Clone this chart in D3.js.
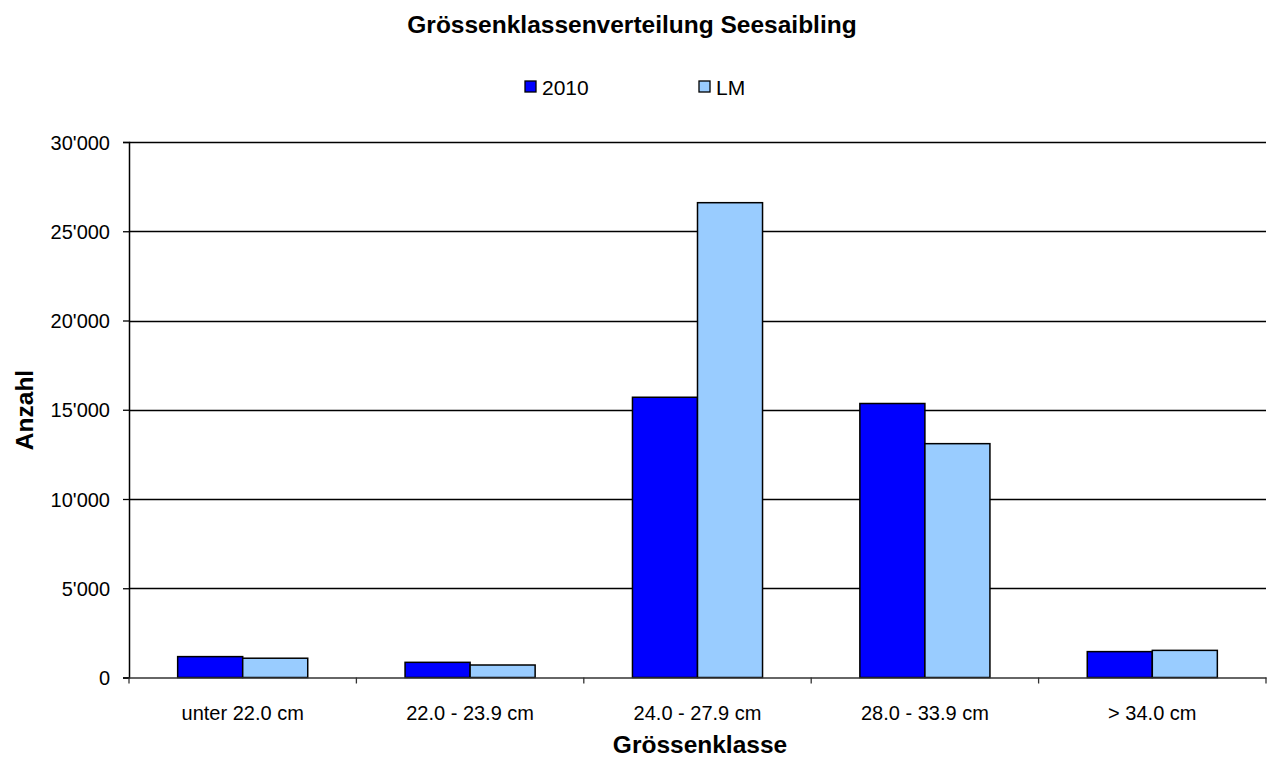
<!DOCTYPE html>
<html>
<head>
<meta charset="utf-8">
<script src="https://cdn.jsdelivr.net/npm/d3@7"></script>
<style>
  html, body { margin: 0; padding: 0; background: #fff; }
  svg { display: block; }
  text { font-family: "Liberation Sans", Arial, sans-serif; fill: #000; }
</style>
</head>
<body>
<svg id="chart" width="1269" height="760"></svg>
<script>
const title = "Grössenklassenverteilung Seesaibling";
const xTitle = "Grössenklasse";
const yTitle = "Anzahl";
const categories = ["unter 22.0 cm", "22.0 - 23.9 cm", "24.0 - 27.9 cm", "28.0 - 33.9 cm", "> 34.0 cm"];
const seriesNames = ["2010", "LM"];
const values2010 = [1170, 850, 15700, 15350, 1450];
const valuesLM = [1080, 700, 26600, 13100, 1520];
const yTicks = [0, 5000, 10000, 15000, 20000, 25000, 30000];
const colors = ["#0000FF", "#99CCFF"];

const svg = d3.select("#chart");
const margin = { left: 129, right: 1266, top: 142, bottom: 677.5 };

const x = d3.scaleBand().domain(categories).range([margin.left, margin.right])
  .paddingInner(0.428).paddingOuter(0.214);
const xs = d3.scaleBand().domain(seriesNames).range([0, x.bandwidth()]);
const y = d3.scaleLinear().domain([0, 30000]).range([margin.bottom, margin.top]);

const fmt = v => d3.format(",")(v).replace(/,/g, "'");

// gridlines
svg.append("g").selectAll("line").data(yTicks.filter(t => t > 0)).join("line")
  .attr("x1", margin.left).attr("x2", margin.right)
  .attr("y1", d => Math.round(y(d)) + 0.5).attr("y2", d => Math.round(y(d)) + 0.5)
  .attr("stroke", "#000").attr("stroke-width", 1.3);

// bars
const data = categories.map((c, i) => ({ c, vals: [values2010[i], valuesLM[i]] }));
const groups = svg.append("g").selectAll("g").data(data).join("g")
  .attr("transform", d => `translate(${x(d.c)},0)`);
groups.selectAll("rect").data(d => d.vals.map((v, j) => ({ v, s: seriesNames[j], j }))).join("rect")
  .attr("x", d => xs(d.s))
  .attr("width", xs.bandwidth())
  .attr("y", d => y(d.v))
  .attr("height", d => y(0) - y(d.v))
  .attr("fill", d => colors[d.j])
  .attr("stroke", "#000").attr("stroke-width", 1.5);

// y axis
const yAxis = d3.axisLeft(y).tickValues(yTicks).tickFormat(fmt).tickSize(6).tickPadding(13);
const yg = svg.append("g").attr("transform", `translate(${margin.left},0)`).call(yAxis);
yg.select(".domain").attr("stroke", "#000").attr("stroke-width", 1.5);
yg.selectAll(".tick line").attr("stroke", "#000").attr("stroke-width", 1.3);
yg.selectAll(".tick text").style("font-size", "20px").attr("font-family", "Liberation Sans, Arial, sans-serif").attr("dy", "0.35em");

// x axis
const xAxis = d3.axisBottom(x).tickSize(0).tickPadding(0);
const xg = svg.append("g").attr("transform", `translate(0,${margin.bottom})`).call(xAxis);
xg.select(".domain").attr("stroke", "#333").attr("stroke-width", 1.5);
xg.selectAll(".tick text").style("font-size", "20px").attr("font-family", "Liberation Sans, Arial, sans-serif")
  .attr("dy", null).attr("y", 42.5);
// category boundary ticks
const bounds = categories.map(c => x(c) - x.step() * x.paddingInner() / 2 - 0).concat([margin.right]);
const bnds = [margin.left].concat(categories.slice(1).map(c => x(c) - (x.step() - x.bandwidth()) / 2), margin.right);
svg.append("g").selectAll("line").data(bnds).join("line")
  .attr("x1", d => d).attr("x2", d => d)
  .attr("y1", margin.bottom).attr("y2", margin.bottom + 6)
  .attr("stroke", "#333").attr("stroke-width", 1.3);

// titles
svg.append("text").attr("x", 632).attr("y", 33).attr("text-anchor", "middle")
  .style("font-size", "24.5px").style("font-weight", "bold").text(title);
svg.append("text").attr("x", 700).attr("y", 753).attr("text-anchor", "middle")
  .style("font-size", "24.5px").style("font-weight", "bold").text(xTitle);
svg.append("text").attr("transform", "translate(33,410) rotate(-90)").attr("text-anchor", "middle")
  .style("font-size", "24.5px").style("font-weight", "bold").text(yTitle);

// legend
const legendX = [525, 699];
const lg = svg.append("g").selectAll("g").data(seriesNames).join("g")
  .attr("transform", (d, i) => `translate(${legendX[i]},81)`);
lg.append("rect").attr("width", 11).attr("height", 11)
  .attr("fill", (d, i) => colors[i]).attr("stroke", "#000").attr("stroke-width", 1.3);
lg.append("text").attr("x", 17).attr("y", 14).style("font-size", "21px").text(d => d);
</script>
</body>
</html>
